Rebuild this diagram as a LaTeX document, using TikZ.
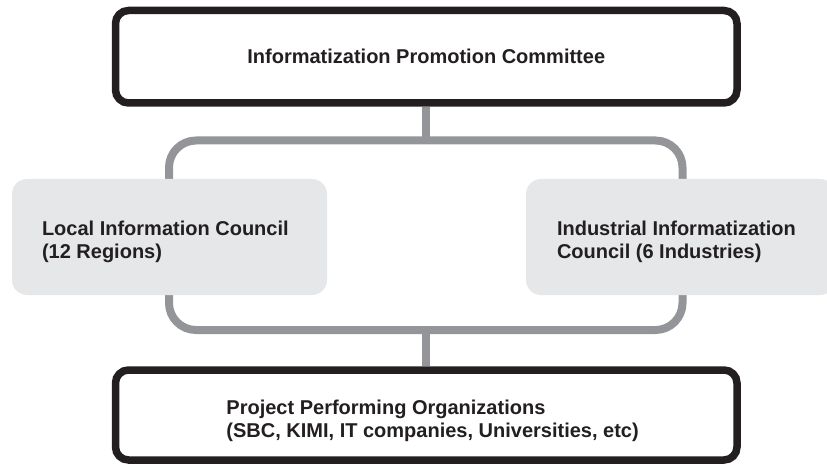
\documentclass[tikz,border=0pt]{standalone}
\usepackage{fontspec}
\setmainfont{Liberation Sans}
\usepackage{tikz}
\usetikzlibrary{positioning, backgrounds}

\definecolor{inkblack}{RGB}{35,31,32}
\definecolor{linkgray}{RGB}{147,149,152}
\definecolor{councilfill}{RGB}{230,231,232}

\begin{document}
\begin{tikzpicture}[x=1pt, y=1pt,
                every node/.style={font=\fontsize{20}{23}\selectfont\bfseries, text=inkblack},
                main box/.style={draw=inkblack, line width=7.5pt, rounded corners=13pt, fill=white,
                                 minimum width=621.5pt, inner sep=0pt},
                council box/.style={fill=councilfill, rounded corners=15pt, minimum height=116pt, inner sep=0pt},
                box text/.style={anchor=west, align=left, inner sep=0pt},
                link/.style={draw=linkgray, line width=8pt},
                loop line/.style={draw=linkgray, line width=8pt, rounded corners=27pt}
]

    % Canvas
        \useasboundingbox (0,0) rectangle (827,464);

    % Committee on top, organizations at the bottom
        \node[main box, minimum height=92.5pt] (committee) at (426.25,407.25) {\raisebox{-1pt}{Informatization Promotion Committee}};
        \node[main box, minimum height=90pt] (projects) at (426.25,49) {};
        \node[box text, xshift=114.5pt, yshift=-6pt] (projectstext) at (projects.west) {Project Performing Organizations\\(SBC, KIMI, IT companies, Universities, etc)};

    % Councils
        \node[council box, minimum width=315pt] (local) at (169.5,227) {};
        \node[box text, xshift=30pt, yshift=-5pt] (localtext) at (local.west) {Local Information Council\\(12 Regions)};
        \node[council box, minimum width=309pt] (industry) at (680.5,227) {};
        \node[box text, xshift=31pt, yshift=-5pt] (industrytext) at (industry.west) {Industrial Informatization\\Council (6 Industries)};

    % Gray loop and connectors behind the boxes
        \begin{scope}[on background layer]
            \coordinate (looptop) at (426.25,323.5);
            \coordinate (loopbot) at (426.25,134);
            \draw[loop line] (169,323.5) rectangle (682.5,134);
            \draw[link] (committee.south) -- (looptop);
            \draw[link] (loopbot) -- (projects.north);
        \end{scope}
\end{tikzpicture}
\end{document}
